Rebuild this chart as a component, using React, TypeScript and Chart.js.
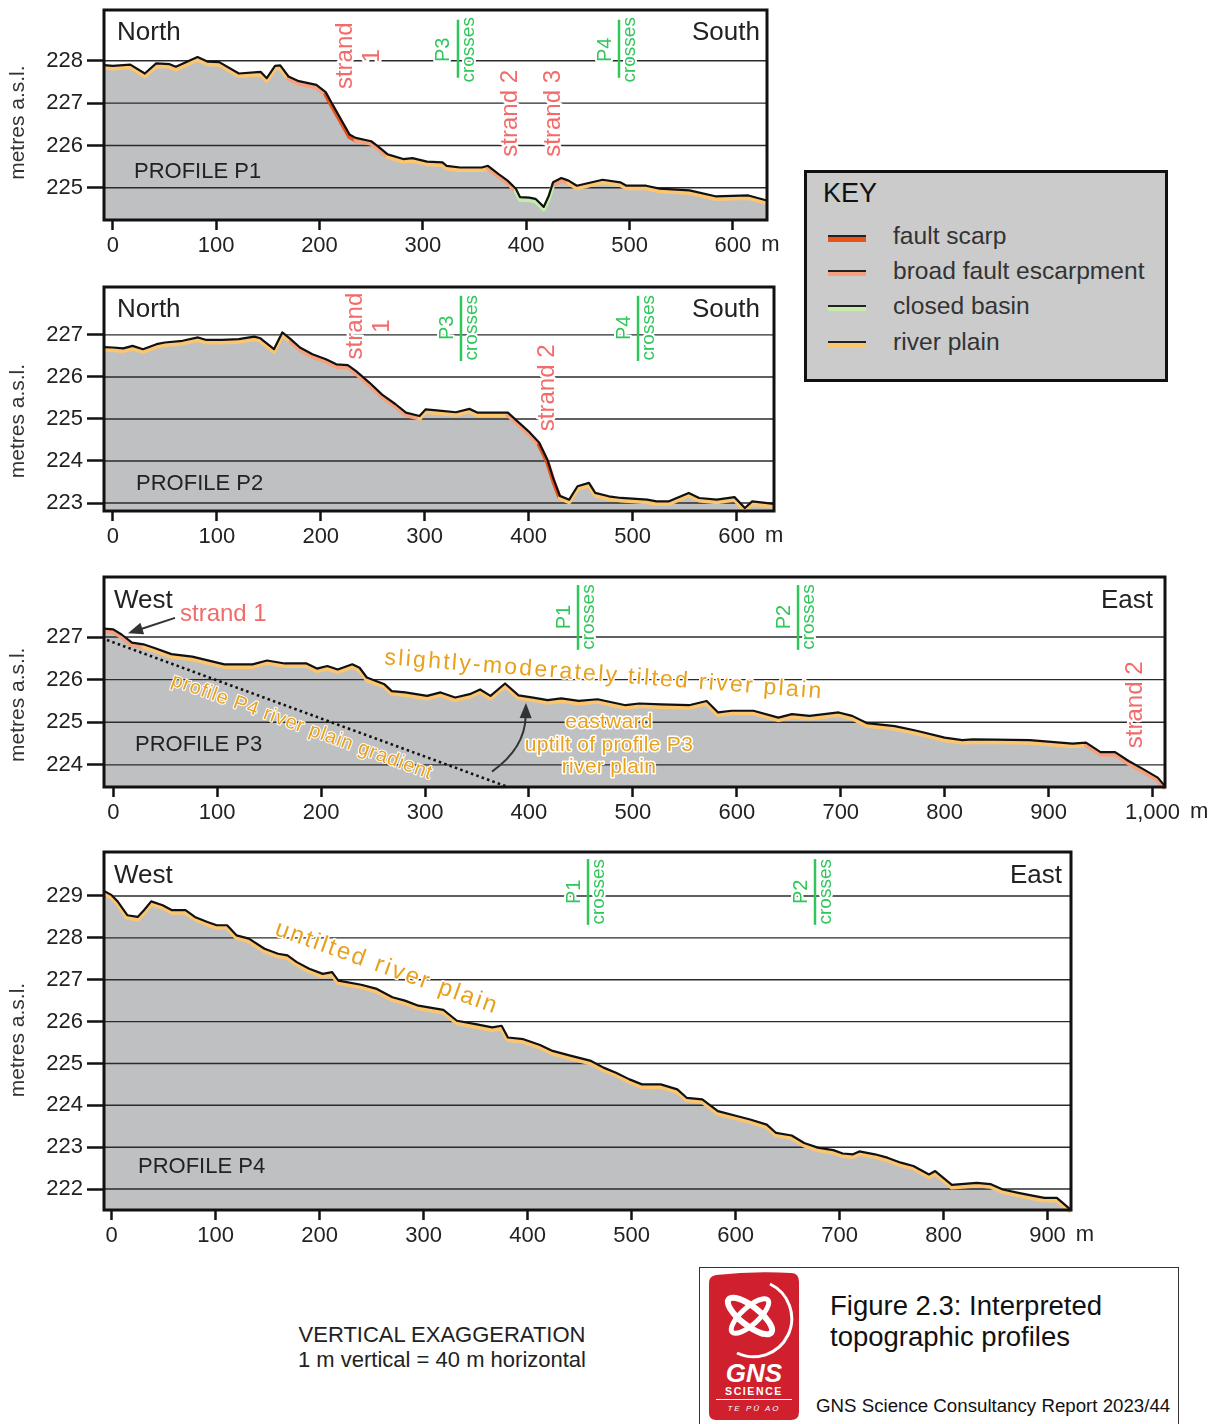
import React, { useEffect, useRef } from "react";
import { Chart, registerables } from "chart.js";

Chart.register(...registerables);

const FONT = '"Liberation Sans", Arial, Helvetica, sans-serif';

// ---------- PROFILE P1 (North - South) ----------
const P1_X = [-8.5, 0, 17, 31, 42, 55, 61, 82, 92, 103, 122, 143, 149, 157, 162, 170, 180, 197, 206, 210, 220, 229, 235, 250, 256, 266, 281, 290, 304, 319, 323, 336, 357, 363, 373, 382, 390, 394, 403, 409, 417, 422, 426, 434, 441, 449, 474, 491, 497, 516, 529, 558, 583, 615, 633];
const P1_Y = [227.9, 227.88, 227.91, 227.7, 227.94, 227.92, 227.86, 228.09, 227.98, 227.97, 227.7, 227.74, 227.59, 227.88, 227.89, 227.63, 227.52, 227.43, 227.26, 227.08, 226.65, 226.26, 226.18, 226.1, 225.99, 225.79, 225.68, 225.7, 225.62, 225.6, 225.52, 225.48, 225.48, 225.52, 225.33, 225.17, 224.98, 224.78, 224.77, 224.74, 224.55, 224.82, 225.13, 225.23, 225.17, 225.05, 225.19, 225.13, 225.05, 225.05, 224.98, 224.94, 224.8, 224.82, 224.7];
const P1_XTICKS = [0, 100, 200, 300, 400, 500, 600];
const P1_YTICKS = [225, 226, 227, 228];
const P1_SCARP = [[208, 232]];
const P1_ESCARP = [[168, 208], [232, 266], [362, 392], [424, 442]];
const P1_BASIN = [[392, 424]];

// ---------- PROFILE P2 (North - South) ----------
const P2_X = [-8.5, 0, 10, 19, 29, 42, 50, 67, 82, 90, 105, 121, 136, 142, 155, 163, 171, 180, 192, 205, 215, 226, 234, 247, 259, 272, 282, 295, 301, 314, 330, 343, 351, 380, 389, 401, 410, 418, 424, 430, 439, 447, 458, 464, 477, 489, 514, 523, 535, 554, 564, 581, 598, 608, 615, 636];
const P2_Y = [226.71, 226.7, 226.68, 226.74, 226.66, 226.78, 226.82, 226.86, 226.94, 226.88, 226.88, 226.9, 226.96, 226.92, 226.66, 227.06, 226.9, 226.7, 226.54, 226.42, 226.3, 226.28, 226.14, 225.86, 225.58, 225.35, 225.15, 225.07, 225.23, 225.2, 225.16, 225.24, 225.15, 225.15, 224.95, 224.68, 224.44, 224.03, 223.56, 223.17, 223.08, 223.4, 223.48, 223.24, 223.16, 223.12, 223.08, 223.04, 223.04, 223.24, 223.12, 223.08, 223.14, 222.88, 223.04, 222.98];
const P2_XTICKS = [0, 100, 200, 300, 400, 500, 600];
const P2_YTICKS = [223, 224, 225, 226, 227];
const P2_SCARP = [[413, 428]];
const P2_ESCARP = [[170, 290], [380, 413]];

// ---------- PROFILE P3 (West - East) ----------
const P3_X = [-8.9, 0, 8, 18, 29, 39, 56, 76, 107, 134, 148, 165, 186, 196, 206, 216, 230, 237, 244, 261, 268, 281, 302, 315, 329, 343, 353, 363, 377, 390, 404, 418, 431, 448, 466, 493, 506, 527, 554, 571, 582, 595, 616, 640, 653, 670, 698, 711, 725, 752, 773, 800, 817, 827, 848, 882, 923, 936, 950, 964, 977, 991, 1005, 1012];
const P3_Y = [227.2, 227.18, 227.06, 226.87, 226.83, 226.75, 226.6, 226.54, 226.36, 226.36, 226.45, 226.38, 226.38, 226.26, 226.32, 226.24, 226.36, 226.28, 226.05, 225.89, 225.73, 225.7, 225.62, 225.7, 225.58, 225.66, 225.77, 225.62, 225.91, 225.63, 225.58, 225.52, 225.56, 225.5, 225.54, 225.4, 225.44, 225.42, 225.4, 225.5, 225.23, 225.27, 225.27, 225.11, 225.19, 225.15, 225.23, 225.15, 224.98, 224.91, 224.8, 224.64, 224.58, 224.6, 224.59, 224.58, 224.5, 224.52, 224.3, 224.3, 224.09, 223.9, 223.7, 223.5];
const P3_XTICKS = [0, 100, 200, 300, 400, 500, 600, 700, 800, 900, 1000];
const P3_YTICKS = [224, 225, 226, 227];
const P3_ESCARP = [[-9, 30], [936, 1013]];
// "profile P4 river plain gradient" reference line
const P3_GRAD_X = [-6, 379.8];
const P3_GRAD_Y = [226.93, 223.48];

// ---------- PROFILE P4 (West - East) ----------
const P4_X = [-7.4, 0, 6, 15, 25, 31, 38, 49, 58, 71, 80, 92, 101, 111, 120, 132, 147, 160, 169, 178, 190, 203, 212, 218, 240, 255, 270, 282, 295, 319, 332, 350, 366, 375, 381, 396, 412, 424, 442, 461, 473, 485, 498, 510, 528, 544, 553, 568, 583, 602, 614, 630, 639, 654, 666, 679, 694, 703, 713, 719, 734, 746, 759, 771, 786, 792, 808, 832, 845, 857, 872, 888, 897, 909, 922.6];
const P4_Y = [229.12, 229.02, 228.86, 228.54, 228.5, 228.66, 228.87, 228.78, 228.66, 228.66, 228.5, 228.38, 228.3, 228.3, 228.06, 227.98, 227.74, 227.62, 227.58, 227.42, 227.26, 227.14, 227.18, 226.98, 226.88, 226.78, 226.58, 226.5, 226.38, 226.28, 226.02, 225.94, 225.86, 225.9, 225.62, 225.58, 225.44, 225.3, 225.18, 225.06, 224.9, 224.78, 224.62, 224.5, 224.5, 224.38, 224.18, 224.14, 223.86, 223.74, 223.66, 223.54, 223.34, 223.28, 223.1, 222.99, 222.93, 222.85, 222.83, 222.9, 222.83, 222.75, 222.63, 222.55, 222.35, 222.43, 222.1, 222.15, 222.12, 221.99, 221.91, 221.83, 221.79, 221.79, 221.5];
const P4_XTICKS = [0, 100, 200, 300, 400, 500, 600, 700, 800, 900];
const P4_YTICKS = [222, 223, 224, 225, 226, 227, 228, 229];

// ---------- styling ----------
const GRAY = "#bfc0c2";
const CAT_COLORS: Record<string, string> = {
  scarp: "#e8521f",
  escarp: "#f7a07d",
  basin: "#c4edab",
  river: "#fcc670",
};
const SALMON = "#f26b6b";
const GREEN = "#2fc65a";
const ORANGE = "#e9a11d";
const DARK = "#222";

const PT = 26;
const PR = 50;
const XH = 44;

function catColor(cats: any, x: number) {
  for (const key of ["scarp", "basin", "escarp"]) {
    const r = cats[key];
    if (!r) continue;
    for (const [a, b] of r) if (x >= a && x <= b) return CAT_COLORS[key];
  }
  return CAT_COLORS.river;
}

type Note = any;

const PROFILES: any[] = [
  {
    key: "p1",
    box: { l: 104, t: 10, r: 767, b: 220 },
    xMin: -8.5, xMax: 633, yMin: 224.24, yMax: 229.2,
    xs: P1_X, ys: P1_Y, xTicks: P1_XTICKS, yTicks: P1_YTICKS,
    cats: { scarp: P1_SCARP, escarp: P1_ESCARP, basin: P1_BASIN },
    yTitleY: 226.54,
    notes: [
      { kind: "text", x: 4.1, y: 228.66, text: "North", size: 26, color: DARK, align: "left" },
      { kind: "text", x: 626.2, y: 228.66, text: "South", size: 26, color: DARK, align: "right" },
      { kind: "text", x: 20.5, y: 225.38, text: "PROFILE P1", size: 22, color: DARK, align: "left" },
      { kind: "text", x: 237.7, y: 228.12, text: "strand\n1", size: 24, color: SALMON, rot: -90, lh: 27, halo: 5 },
      { kind: "cross", x: 334.0, y1: 228.97, y2: 227.6, y: 228.26, a: "P3", b: "crosses" },
      { kind: "cross", x: 489.8, y1: 228.97, y2: 227.6, y: 228.26, a: "P4", b: "crosses" },
      { kind: "text", x: 384.3, y: 226.76, text: "strand 2", size: 24, color: SALMON, rot: -90, halo: 5 },
      { kind: "text", x: 426.2, y: 226.76, text: "strand 3", size: 24, color: SALMON, rot: -90, halo: 5 },
    ] as Note[],
  },
  {
    key: "p2",
    box: { l: 104, t: 287, r: 774, b: 511 },
    xMin: -8.5, xMax: 636, yMin: 222.81, yMax: 228.14,
    xs: P2_X, ys: P2_Y, xTicks: P2_XTICKS, yTicks: P2_YTICKS,
    cats: { scarp: P2_SCARP, escarp: P2_ESCARP },
    yTitleY: 224.95,
    notes: [
      { kind: "text", x: 4.0, y: 227.6, text: "North", size: 26, color: DARK, align: "left" },
      { kind: "text", x: 622.5, y: 227.6, text: "South", size: 26, color: DARK, align: "right" },
      { kind: "text", x: 22.3, y: 223.45, text: "PROFILE P2", size: 22, color: DARK, align: "left" },
      { kind: "text", x: 246.4, y: 227.21, text: "strand\n1", size: 24, color: SALMON, rot: -90, lh: 27, halo: 5 },
      { kind: "cross", x: 334.9, y1: 227.93, y2: 226.38, y: 227.17, a: "P3", b: "crosses" },
      { kind: "cross", x: 505.2, y1: 227.93, y2: 226.38, y: 227.17, a: "P4", b: "crosses" },
      { kind: "text", x: 417.6, y: 225.74, text: "strand 2", size: 24, color: SALMON, rot: -90, halo: 5 },
    ] as Note[],
  },
  {
    key: "p3",
    box: { l: 104, t: 577, r: 1165, b: 787 },
    xMin: -8.9, xMax: 1012, yMin: 223.48, yMax: 228.41,
    xs: P3_X, ys: P3_Y, xTicks: P3_XTICKS, yTicks: P3_YTICKS,
    cats: { escarp: P3_ESCARP },
    grad: { xs: P3_GRAD_X, ys: P3_GRAD_Y },
    yTitleY: 225.41,
    notes: [
      { kind: "text", x: 0.7, y: 227.84, text: "West", size: 26, color: DARK, align: "left" },
      { kind: "text", x: 1000.4, y: 227.84, text: "East", size: 26, color: DARK, align: "right" },
      { kind: "text", x: 64.2, y: 227.54, text: "strand 1", size: 24, color: SALMON, align: "left" },
      { kind: "arrow", x1: 59.4, y1: 227.45, x2: 14.2, y2: 227.09 },
      { kind: "text", x: 20.9, y: 224.47, text: "PROFILE P3", size: 22, color: DARK, align: "left" },
      { kind: "cross", x: 447.2, y1: 228.22, y2: 226.7, y: 227.47, a: "P1", b: "crosses" },
      { kind: "cross", x: 658.9, y1: 228.22, y2: 226.7, y: 227.47, a: "P2", b: "crosses" },
      { kind: "text", x: 983.1, y: 225.41, text: "strand 2", size: 24, color: SALMON, rot: -90, halo: 4 },
      { kind: "text", x: 472.2, y: 226.11, text: "slightly-moderately tilted river plain", size: 23, color: ORANGE, rot: 4.45, spacing: 2.3, halo: 3 },
      { kind: "text", x: 181.6, y: 224.89, text: "profile P4 river plain gradient", size: 20, color: ORANGE, rot: 20, spacing: 0.7, halo: 2 },
      { kind: "text", x: 477, y: 224.47, text: "eastward\nuptilt of profile P3\nriver plain", size: 21, color: ORANGE, lh: 22.5, spacing: 0.3, halo: 3 },
      { kind: "arrow", x1: 364.4, y1: 223.84, cx: 396.2, cy: 224.39, x2: 397.1, y2: 225.45 },
    ] as Note[],
  },
  {
    key: "p4",
    box: { l: 104, t: 852, r: 1071, b: 1210 },
    xMin: -7.4, xMax: 922.6, yMin: 221.5, yMax: 230.05,
    xs: P4_X, ys: P4_Y, xTicks: P4_XTICKS, yTicks: P4_YTICKS,
    cats: {},
    yTitleY: 225.56,
    notes: [
      { kind: "text", x: 2.2, y: 229.48, text: "West", size: 26, color: DARK, align: "left" },
      { kind: "text", x: 913.9, y: 229.48, text: "East", size: 26, color: DARK, align: "right" },
      { kind: "text", x: 25.3, y: 222.53, text: "PROFILE P4", size: 22, color: DARK, align: "left" },
      { kind: "cross", x: 458.1, y1: 229.88, y2: 228.31, y: 229.1, a: "P1", b: "crosses" },
      { kind: "cross", x: 676.4, y1: 229.88, y2: 228.31, y: 229.1, a: "P2", b: "crosses" },
      { kind: "text", x: 264.8, y: 227.28, text: "untilted river plain", size: 24, color: ORANGE, rot: 19.7, spacing: 2.4, halo: 3 },
    ] as Note[],
  },
];

function drawText(ctx: CanvasRenderingContext2D, n: Note, px: number, py: number) {
  ctx.save();
  ctx.translate(px, py);
  if (n.rot) ctx.rotate((n.rot * Math.PI) / 180);
  ctx.font = `${n.size}px ${FONT}`;
  (ctx as any).letterSpacing = `${n.spacing || 0}px`;
  ctx.textAlign = n.align || "center";
  ctx.textBaseline = "middle";
  const lines = String(n.text).split("\n");
  const lh = n.lh || n.size * 1.2;
  lines.forEach((ln, i) => {
    const dy = (i - (lines.length - 1) / 2) * lh;
    if (n.halo) {
      ctx.strokeStyle = "#fff";
      ctx.lineWidth = n.halo;
      ctx.lineJoin = "round";
      ctx.strokeText(ln, 0, dy);
    }
    ctx.fillStyle = n.color;
    ctx.fillText(ln, 0, dy);
  });
  (ctx as any).letterSpacing = "0px";
  ctx.restore();
}

function drawArrow(ctx: CanvasRenderingContext2D, p0: any, c: any, p1: any) {
  const col = "#333";
  const from = c || p0;
  const ang = Math.atan2(p1.y - from.y, p1.x - from.x);
  const L = 15, W = 6;
  const ex = p1.x - Math.cos(ang) * (L - 2);
  const ey = p1.y - Math.sin(ang) * (L - 2);
  ctx.save();
  ctx.strokeStyle = col;
  ctx.fillStyle = col;
  ctx.lineWidth = 2;
  ctx.beginPath();
  ctx.moveTo(p0.x, p0.y);
  if (c) ctx.quadraticCurveTo(c.x, c.y, ex, ey);
  else ctx.lineTo(ex, ey);
  ctx.stroke();
  const cs = Math.cos(ang), sn = Math.sin(ang);
  ctx.beginPath();
  ctx.moveTo(p1.x, p1.y);
  ctx.lineTo(p1.x - L * cs + W * sn, p1.y - L * sn - W * cs);
  ctx.lineTo(p1.x - L * cs - W * sn, p1.y - L * sn + W * cs);
  ctx.closePath();
  ctx.fill();
  ctx.restore();
}

function fmtTick(v: number) {
  return Number(v).toLocaleString("en-US");
}

function makePlugin(cfg: any) {
  return {
    id: "deco",
    beforeDatasetDraw(chart: any, args: any) {
      const ds = chart.data.datasets[args.index];
      if (ds.shiftY) {
        chart.ctx.save();
        chart.ctx.translate(0, ds.shiftY);
      }
    },
    afterDatasetDraw(chart: any, args: any) {
      const ds = chart.data.datasets[args.index];
      if (ds.shiftY) chart.ctx.restore();
      if (ds.isFill) {
        const ctx = chart.ctx;
        const a = chart.chartArea;
        const ys = chart.scales.y;
        ctx.save();
        ctx.strokeStyle = "#2b2b2b";
        ctx.lineWidth = 1.4;
        for (const v of cfg.yTicks) {
          const py = ys.getPixelForValue(v);
          ctx.beginPath();
          ctx.moveTo(a.left, py);
          ctx.lineTo(a.right, py);
          ctx.stroke();
        }
        ctx.restore();
      }
    },
    afterDraw(chart: any) {
      const ctx: CanvasRenderingContext2D = chart.ctx;
      const a = chart.chartArea;
      const xs = chart.scales.x;
      const ys = chart.scales.y;
      // frame
      ctx.save();
      ctx.strokeStyle = "#111";
      ctx.lineWidth = 3;
      ctx.strokeRect(a.left, a.top, a.right - a.left, a.bottom - a.top);
      ctx.restore();
      // notes
      for (const n of cfg.notes) {
        if (n.kind === "text") {
          drawText(ctx, n, xs.getPixelForValue(n.x), ys.getPixelForValue(n.y));
        } else if (n.kind === "cross") {
          const px = xs.getPixelForValue(n.x);
          const py = ys.getPixelForValue(n.y);
          drawText(ctx, { text: n.a, size: 20, color: GREEN, rot: -90, halo: 4 }, px - 14, py);
          drawText(ctx, { text: n.b, size: 19, color: GREEN, rot: -90, halo: 4 }, px + 11, py);
          ctx.save();
          ctx.strokeStyle = GREEN;
          ctx.lineWidth = 2.5;
          ctx.beginPath();
          ctx.moveTo(px, ys.getPixelForValue(n.y1));
          ctx.lineTo(px, ys.getPixelForValue(n.y2));
          ctx.stroke();
          ctx.restore();
        } else if (n.kind === "arrow") {
          const p0 = { x: xs.getPixelForValue(n.x1), y: ys.getPixelForValue(n.y1) };
          const p1 = { x: xs.getPixelForValue(n.x2), y: ys.getPixelForValue(n.y2) };
          const c = n.cx !== undefined ? { x: xs.getPixelForValue(n.cx), y: ys.getPixelForValue(n.cy) } : null;
          drawArrow(ctx, p0, c, p1);
        }
      }
      // y axis title
      ctx.save();
      ctx.translate(18, ys.getPixelForValue(cfg.yTitleY));
      ctx.rotate(-Math.PI / 2);
      ctx.font = `21px ${FONT}`;
      ctx.fillStyle = "#333";
      ctx.textAlign = "center";
      ctx.textBaseline = "middle";
      ctx.fillText("metres a.s.l.", 0, 0);
      ctx.restore();
      // unit suffix after last x tick
      const last = cfg.xTicks[cfg.xTicks.length - 1];
      ctx.save();
      ctx.font = `22px ${FONT}`;
      const w = ctx.measureText(fmtTick(last)).width;
      ctx.fillStyle = DARK;
      ctx.textAlign = "left";
      ctx.textBaseline = "top";
      ctx.fillText("m", xs.getPixelForValue(last) + w / 2 + 10, a.bottom + 14);
      ctx.restore();
    },
  };
}

function buildConfig(cfg: any): any {
  const pts = cfg.xs.map((x: number, i: number) => ({ x, y: cfg.ys[i] }));
  const datasets: any[] = [
    { data: pts, isFill: true, fill: "start", backgroundColor: GRAY, borderWidth: 0, pointRadius: 0, order: 4 },
    {
      data: pts, shiftY: 2.4, fill: false, borderWidth: 4.4, borderColor: CAT_COLORS.river,
      segment: { borderColor: (c: any) => catColor(cfg.cats, (c.p0.parsed.x + c.p1.parsed.x) / 2) },
      pointRadius: 0, order: 3, borderJoinStyle: "round", borderCapStyle: "round",
    },
    { data: pts, fill: false, borderWidth: 2.2, borderColor: "#111", pointRadius: 0, order: 2, borderJoinStyle: "round" },
  ];
  if (cfg.grad) {
    datasets.push({
      data: cfg.grad.xs.map((x: number, i: number) => ({ x, y: cfg.grad.ys[i] })),
      fill: false, borderWidth: 2.6, borderColor: "#111", borderDash: [2.5, 3.2], pointRadius: 0, order: 1,
    });
  }
  const tickFont = { family: FONT, size: 22 };
  return {
    type: "line",
    data: { datasets },
    options: {
      animation: false,
      responsive: false,
      events: [],
      layout: { padding: { top: PT, right: PR, left: 0, bottom: 0 } },
      plugins: { legend: { display: false }, tooltip: { enabled: false }, title: { display: false } },
      scales: {
        x: {
          type: "linear",
          min: cfg.xMin,
          max: cfg.xMax,
          afterBuildTicks: (s: any) => { s.ticks = cfg.xTicks.map((v: number) => ({ value: v })); },
          afterFit: (s: any) => { s.height = XH; },
          grid: { drawOnChartArea: false, drawTicks: true, tickLength: 10, tickWidth: 2.5, color: "#111" },
          border: { display: false },
          ticks: { font: tickFont, color: DARK, padding: 3, maxRotation: 0, autoSkip: false, callback: (v: any) => fmtTick(v) },
        },
        y: {
          type: "linear",
          min: cfg.yMin,
          max: cfg.yMax,
          afterBuildTicks: (s: any) => { s.ticks = cfg.yTicks.map((v: number) => ({ value: v })); },
          afterFit: (s: any) => { s.width = cfg.box.l; },
          grid: { drawOnChartArea: false, drawTicks: true, tickLength: 17, tickWidth: 2.5, color: "#111" },
          border: { display: false },
          ticks: { font: tickFont, color: DARK, padding: 4, autoSkip: false, callback: (v: any) => String(v) },
        },
      },
    },
    plugins: [makePlugin(cfg)],
  };
}

function Profile({ cfg }: { cfg: any }) {
  const ref = useRef<HTMLCanvasElement>(null);
  useEffect(() => {
    const chart = new Chart(ref.current as HTMLCanvasElement, buildConfig(cfg));
    return () => chart.destroy();
  }, [cfg]);
  const w = cfg.box.r + PR;
  const h = cfg.box.b - cfg.box.t + PT + XH;
  return (
    <canvas
      ref={ref}
      width={w}
      height={h}
      style={{ position: "absolute", left: 0, top: cfg.box.t - PT, width: w, height: h }}
    />
  );
}

const KEY_ITEMS = [
  { label: "fault scarp", color: CAT_COLORS.scarp, y: 237, thick: 5 },
  { label: "broad fault escarpment", color: CAT_COLORS.escarp, y: 272, thick: 4 },
  { label: "closed basin", color: CAT_COLORS.basin, y: 307, thick: 4 },
  { label: "river plain", color: CAT_COLORS.river, y: 343, thick: 4 },
];

function Key() {
  return (
    <>
      <div
        style={{
          position: "absolute", left: 804, top: 170, width: 364, height: 212, boxSizing: "border-box",
          border: "3px solid #111", background: "#cbcbcb",
        }}
      />
      <div style={{ position: "absolute", left: 823, top: 177, fontSize: 27, lineHeight: "32px", color: "#111" }}>KEY</div>
      {KEY_ITEMS.map((k) => (
        <React.Fragment key={k.label}>
          <div style={{ position: "absolute", left: 828, top: k.y - 2, width: 38, height: 1.6, background: "#222" }} />
          <div style={{ position: "absolute", left: 828, top: k.y - 0.4, width: 38, height: k.thick, background: k.color }} />
          <div style={{ position: "absolute", left: 893, top: k.y - 15, fontSize: 24.6, lineHeight: "28px", color: "#333", whiteSpace: "nowrap" }}>
            {k.label}
          </div>
        </React.Fragment>
      ))}
    </>
  );
}

function Logo() {
  return (
    <svg width={94} height={150} viewBox="0 0 94 150" style={{ position: "absolute", left: 707, top: 1271 }}>
      <path d="M9 4 Q48 0 84 2 Q92 2 92 11 L92 141 Q92 149 84 149 L9 149 Q2 149 2 142 L2 12 Q2 5 9 4 Z" fill="#d0202e" />
      <ellipse cx="43" cy="45" rx="27" ry="9.5" transform="rotate(38 43 45)" fill="none" stroke="#fff" strokeWidth="6" />
      <ellipse cx="43" cy="45" rx="24" ry="8.5" transform="rotate(-42 43 45)" fill="none" stroke="#fff" strokeWidth="5" />
      <path d="M63 13 A34 34 0 0 1 30 82" fill="none" stroke="#fff" strokeWidth="3" />
      <text x="47" y="111" textAnchor="middle" fill="#fff" fontFamily={FONT} fontSize="26" fontWeight="900" fontStyle="italic">GNS</text>
      <text x="47" y="124" textAnchor="middle" fill="#fff" fontFamily={FONT} fontSize="10.5" fontWeight="700" letterSpacing="1.6">SCIENCE</text>
      <line x1="9" y1="128.5" x2="85" y2="128.5" stroke="#fff" strokeWidth="1" />
      <text x="47" y="139.5" textAnchor="middle" fill="#fff" fontFamily={FONT} fontSize="8" fontStyle="italic" letterSpacing="2">TE PŪ AO</text>
    </svg>
  );
}

export default function App() {
  return (
    <div
      style={{
        position: "absolute", left: 0, top: 0, width: 1215, height: 1424, background: "#fff",
        overflow: "hidden", fontFamily: FONT,
      }}
    >
      {PROFILES.map((p) => (
        <Profile key={p.key} cfg={p} />
      ))}
      <Key />
      <div style={{ position: "absolute", left: 242, width: 400, top: 1322, textAlign: "center", fontSize: 22, lineHeight: "25px", color: "#222" }}>
        VERTICAL EXAGGERATION
        <br />1 m vertical = 40 m horizontal
      </div>
      <div
        style={{
          position: "absolute", left: 699, top: 1267, width: 480, height: 170, boxSizing: "border-box",
          border: "1.5px solid #333", background: "#fff",
        }}
      />
      <Logo />
      <div style={{ position: "absolute", left: 830, top: 1290, fontSize: 27.5, lineHeight: "31px", color: "#111", whiteSpace: "nowrap" }}>
        Figure 2.3: Interpreted
        <br />topographic profiles
      </div>
      <div style={{ position: "absolute", left: 816, top: 1395, fontSize: 18.7, lineHeight: "22px", color: "#111", whiteSpace: "nowrap" }}>
        GNS Science Consultancy Report 2023/44
      </div>
    </div>
  );
}
